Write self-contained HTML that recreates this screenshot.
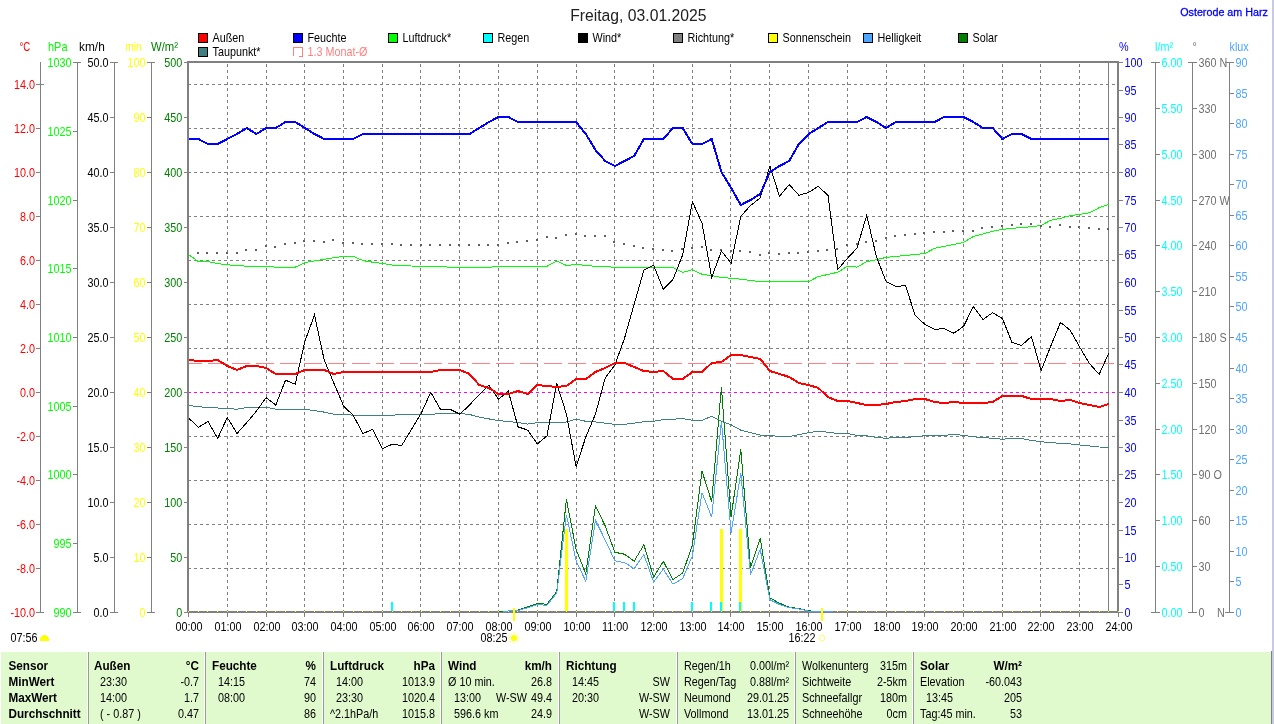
<!DOCTYPE html>
<html><head><meta charset="utf-8"><title>Wetter Osterode am Harz</title>
<style>html,body{margin:0;padding:0;background:#fff;overflow:hidden}body{width:1274px;height:724px;font-family:"Liberation Sans",sans-serif}svg{display:block;will-change:transform}</style></head>
<body>
<svg width="1274" height="724" viewBox="0 0 1274 724" font-family="'Liberation Sans', sans-serif" font-size="12" shape-rendering="crispEdges">
<rect x="0" y="0" width="1274" height="724" fill="#fff"/>
<rect x="1272" y="0" width="2" height="724" fill="#c8c8e8"/>
<rect x="1" y="652" width="1270" height="72" fill="#e1facd"/>
<rect x="1271" y="651" width="1" height="73" fill="#808080"/>
<rect x="87" y="652" width="1" height="72" fill="#ffffff"/>
<rect x="88" y="652" width="1" height="72" fill="#9a9a9a"/>
<rect x="204" y="652" width="1" height="72" fill="#ffffff"/>
<rect x="205" y="652" width="1" height="72" fill="#9a9a9a"/>
<rect x="322" y="652" width="1" height="72" fill="#ffffff"/>
<rect x="323" y="652" width="1" height="72" fill="#9a9a9a"/>
<rect x="440" y="652" width="1" height="72" fill="#ffffff"/>
<rect x="441" y="652" width="1" height="72" fill="#9a9a9a"/>
<rect x="558" y="652" width="1" height="72" fill="#ffffff"/>
<rect x="559" y="652" width="1" height="72" fill="#9a9a9a"/>
<rect x="676" y="652" width="1" height="72" fill="#ffffff"/>
<rect x="677" y="652" width="1" height="72" fill="#9a9a9a"/>
<rect x="794" y="652" width="1" height="72" fill="#ffffff"/>
<rect x="795" y="652" width="1" height="72" fill="#9a9a9a"/>
<rect x="912" y="652" width="1" height="72" fill="#ffffff"/>
<rect x="913" y="652" width="1" height="72" fill="#9a9a9a"/>
<line x1="227.5" y1="63" x2="227.5" y2="611" stroke="#808080" stroke-width="1" stroke-dasharray="3 3" stroke-dashoffset="5"/>
<line x1="266.5" y1="63" x2="266.5" y2="611" stroke="#808080" stroke-width="1" stroke-dasharray="3 3" stroke-dashoffset="5"/>
<line x1="304.5" y1="63" x2="304.5" y2="611" stroke="#808080" stroke-width="1" stroke-dasharray="3 3" stroke-dashoffset="5"/>
<line x1="343.5" y1="63" x2="343.5" y2="611" stroke="#808080" stroke-width="1" stroke-dasharray="3 3" stroke-dashoffset="5"/>
<line x1="382.5" y1="63" x2="382.5" y2="611" stroke="#808080" stroke-width="1" stroke-dasharray="3 3" stroke-dashoffset="5"/>
<line x1="420.5" y1="63" x2="420.5" y2="611" stroke="#808080" stroke-width="1" stroke-dasharray="3 3" stroke-dashoffset="5"/>
<line x1="459.5" y1="63" x2="459.5" y2="611" stroke="#808080" stroke-width="1" stroke-dasharray="3 3" stroke-dashoffset="5"/>
<line x1="498.5" y1="63" x2="498.5" y2="611" stroke="#808080" stroke-width="1" stroke-dasharray="3 3" stroke-dashoffset="5"/>
<line x1="537.5" y1="63" x2="537.5" y2="611" stroke="#808080" stroke-width="1" stroke-dasharray="3 3" stroke-dashoffset="5"/>
<line x1="576.5" y1="63" x2="576.5" y2="611" stroke="#808080" stroke-width="1" stroke-dasharray="3 3" stroke-dashoffset="5"/>
<line x1="614.5" y1="63" x2="614.5" y2="611" stroke="#808080" stroke-width="1" stroke-dasharray="3 3" stroke-dashoffset="5"/>
<line x1="653.5" y1="63" x2="653.5" y2="611" stroke="#808080" stroke-width="1" stroke-dasharray="3 3" stroke-dashoffset="5"/>
<line x1="692.5" y1="63" x2="692.5" y2="611" stroke="#808080" stroke-width="1" stroke-dasharray="3 3" stroke-dashoffset="5"/>
<line x1="730.5" y1="63" x2="730.5" y2="611" stroke="#808080" stroke-width="1" stroke-dasharray="3 3" stroke-dashoffset="5"/>
<line x1="769.5" y1="63" x2="769.5" y2="611" stroke="#808080" stroke-width="1" stroke-dasharray="3 3" stroke-dashoffset="5"/>
<line x1="808.5" y1="63" x2="808.5" y2="611" stroke="#808080" stroke-width="1" stroke-dasharray="3 3" stroke-dashoffset="5"/>
<line x1="847.5" y1="63" x2="847.5" y2="611" stroke="#808080" stroke-width="1" stroke-dasharray="3 3" stroke-dashoffset="5"/>
<line x1="886.5" y1="63" x2="886.5" y2="611" stroke="#808080" stroke-width="1" stroke-dasharray="3 3" stroke-dashoffset="5"/>
<line x1="924.5" y1="63" x2="924.5" y2="611" stroke="#808080" stroke-width="1" stroke-dasharray="3 3" stroke-dashoffset="5"/>
<line x1="963.5" y1="63" x2="963.5" y2="611" stroke="#808080" stroke-width="1" stroke-dasharray="3 3" stroke-dashoffset="5"/>
<line x1="1002.5" y1="63" x2="1002.5" y2="611" stroke="#808080" stroke-width="1" stroke-dasharray="3 3" stroke-dashoffset="5"/>
<line x1="1040.5" y1="63" x2="1040.5" y2="611" stroke="#808080" stroke-width="1" stroke-dasharray="3 3" stroke-dashoffset="5"/>
<line x1="1079.5" y1="63" x2="1079.5" y2="611" stroke="#808080" stroke-width="1" stroke-dasharray="3 3" stroke-dashoffset="5"/>
<line x1="189" y1="84.5" x2="1117" y2="84.5" stroke="#808080" stroke-width="1" stroke-dasharray="3 3" stroke-dashoffset="1"/>
<line x1="189" y1="128.5" x2="1117" y2="128.5" stroke="#808080" stroke-width="1" stroke-dasharray="3 3" stroke-dashoffset="1"/>
<line x1="189" y1="172.5" x2="1117" y2="172.5" stroke="#808080" stroke-width="1" stroke-dasharray="3 3" stroke-dashoffset="1"/>
<line x1="189" y1="216.5" x2="1117" y2="216.5" stroke="#808080" stroke-width="1" stroke-dasharray="3 3" stroke-dashoffset="1"/>
<line x1="189" y1="260.5" x2="1117" y2="260.5" stroke="#808080" stroke-width="1" stroke-dasharray="3 3" stroke-dashoffset="1"/>
<line x1="189" y1="304.5" x2="1117" y2="304.5" stroke="#808080" stroke-width="1" stroke-dasharray="3 3" stroke-dashoffset="1"/>
<line x1="189" y1="348.5" x2="1117" y2="348.5" stroke="#808080" stroke-width="1" stroke-dasharray="3 3" stroke-dashoffset="1"/>
<line x1="189" y1="436.5" x2="1117" y2="436.5" stroke="#808080" stroke-width="1" stroke-dasharray="3 3" stroke-dashoffset="1"/>
<line x1="189" y1="480.5" x2="1117" y2="480.5" stroke="#808080" stroke-width="1" stroke-dasharray="3 3" stroke-dashoffset="1"/>
<line x1="189" y1="524.5" x2="1117" y2="524.5" stroke="#808080" stroke-width="1" stroke-dasharray="3 3" stroke-dashoffset="1"/>
<line x1="189" y1="568.5" x2="1117" y2="568.5" stroke="#808080" stroke-width="1" stroke-dasharray="3 3" stroke-dashoffset="1"/>
<rect x="1108" y="63" width="1" height="548" fill="#808080"/>
<line x1="184" y1="363.5" x2="1114" y2="363.5" stroke="#ff8080" stroke-width="1" stroke-dasharray="18 6" clip-path="url(#pc)"/>
<line x1="189" y1="392.5" x2="1117" y2="392.5" stroke="#ff00ff" stroke-width="1" stroke-dasharray="3 3" stroke-dashoffset="1"/>
<defs><clipPath id="pd"><rect x="189" y="63" width="928" height="550"/></clipPath><clipPath id="pc"><rect x="189" y="63" width="928" height="548"/></clipPath></defs>
<rect x="187" y="61" width="932" height="2" fill="#808080"/>
<rect x="187" y="611" width="932" height="2" fill="#808080"/>
<rect x="187" y="61" width="2" height="552" fill="#808080"/>
<rect x="1117" y="61" width="2" height="552" fill="#808080"/>
<rect x="188" y="611" width="1" height="1" fill="#ffff00"/>
<rect x="198" y="611" width="1" height="1" fill="#ffff00"/>
<rect x="207" y="611" width="1" height="1" fill="#ffff00"/>
<rect x="217" y="611" width="1" height="1" fill="#ffff00"/>
<rect x="227" y="611" width="1" height="1" fill="#ffff00"/>
<rect x="237" y="611" width="1" height="1" fill="#ffff00"/>
<rect x="246" y="611" width="1" height="1" fill="#ffff00"/>
<rect x="256" y="611" width="1" height="1" fill="#ffff00"/>
<rect x="266" y="611" width="1" height="1" fill="#ffff00"/>
<rect x="275" y="611" width="1" height="1" fill="#ffff00"/>
<rect x="285" y="611" width="1" height="1" fill="#ffff00"/>
<rect x="295" y="611" width="1" height="1" fill="#ffff00"/>
<rect x="304" y="611" width="1" height="1" fill="#ffff00"/>
<rect x="314" y="611" width="1" height="1" fill="#ffff00"/>
<rect x="324" y="611" width="1" height="1" fill="#ffff00"/>
<rect x="333" y="611" width="1" height="1" fill="#ffff00"/>
<rect x="343" y="611" width="1" height="1" fill="#ffff00"/>
<rect x="353" y="611" width="1" height="1" fill="#ffff00"/>
<rect x="362" y="611" width="1" height="1" fill="#ffff00"/>
<rect x="372" y="611" width="1" height="1" fill="#ffff00"/>
<rect x="382" y="611" width="1" height="1" fill="#ffff00"/>
<rect x="392" y="611" width="1" height="1" fill="#ffff00"/>
<rect x="401" y="611" width="1" height="1" fill="#ffff00"/>
<rect x="411" y="611" width="1" height="1" fill="#ffff00"/>
<rect x="421" y="611" width="1" height="1" fill="#ffff00"/>
<rect x="430" y="611" width="1" height="1" fill="#ffff00"/>
<rect x="440" y="611" width="1" height="1" fill="#ffff00"/>
<rect x="450" y="611" width="1" height="1" fill="#ffff00"/>
<rect x="459" y="611" width="1" height="1" fill="#ffff00"/>
<rect x="469" y="611" width="1" height="1" fill="#ffff00"/>
<rect x="479" y="611" width="1" height="1" fill="#ffff00"/>
<rect x="488" y="611" width="1" height="1" fill="#ffff00"/>
<rect x="498" y="611" width="1" height="1" fill="#ffff00"/>
<rect x="508" y="611" width="1" height="1" fill="#ffff00"/>
<rect x="517" y="611" width="1" height="1" fill="#ffff00"/>
<rect x="527" y="611" width="1" height="1" fill="#ffff00"/>
<rect x="537" y="611" width="1" height="1" fill="#ffff00"/>
<rect x="547" y="611" width="1" height="1" fill="#ffff00"/>
<rect x="556" y="611" width="1" height="1" fill="#ffff00"/>
<rect x="566" y="611" width="1" height="1" fill="#ffff00"/>
<rect x="576" y="611" width="1" height="1" fill="#ffff00"/>
<rect x="585" y="611" width="1" height="1" fill="#ffff00"/>
<rect x="595" y="611" width="1" height="1" fill="#ffff00"/>
<rect x="605" y="611" width="1" height="1" fill="#ffff00"/>
<rect x="614" y="611" width="1" height="1" fill="#ffff00"/>
<rect x="624" y="611" width="1" height="1" fill="#ffff00"/>
<rect x="634" y="611" width="1" height="1" fill="#ffff00"/>
<rect x="643" y="611" width="1" height="1" fill="#ffff00"/>
<rect x="653" y="611" width="1" height="1" fill="#ffff00"/>
<rect x="663" y="611" width="1" height="1" fill="#ffff00"/>
<rect x="672" y="611" width="1" height="1" fill="#ffff00"/>
<rect x="682" y="611" width="1" height="1" fill="#ffff00"/>
<rect x="692" y="611" width="1" height="1" fill="#ffff00"/>
<rect x="702" y="611" width="1" height="1" fill="#ffff00"/>
<rect x="711" y="611" width="1" height="1" fill="#ffff00"/>
<rect x="721" y="611" width="1" height="1" fill="#ffff00"/>
<rect x="731" y="611" width="1" height="1" fill="#ffff00"/>
<rect x="740" y="611" width="1" height="1" fill="#ffff00"/>
<rect x="750" y="611" width="1" height="1" fill="#ffff00"/>
<rect x="760" y="611" width="1" height="1" fill="#ffff00"/>
<rect x="769" y="611" width="1" height="1" fill="#ffff00"/>
<rect x="779" y="611" width="1" height="1" fill="#ffff00"/>
<rect x="789" y="611" width="1" height="1" fill="#ffff00"/>
<rect x="798" y="611" width="1" height="1" fill="#ffff00"/>
<rect x="808" y="611" width="1" height="1" fill="#ffff00"/>
<rect x="818" y="611" width="1" height="1" fill="#ffff00"/>
<rect x="827" y="611" width="1" height="1" fill="#ffff00"/>
<rect x="837" y="611" width="1" height="1" fill="#ffff00"/>
<rect x="847" y="611" width="1" height="1" fill="#ffff00"/>
<rect x="857" y="611" width="1" height="1" fill="#ffff00"/>
<rect x="866" y="611" width="1" height="1" fill="#ffff00"/>
<rect x="876" y="611" width="1" height="1" fill="#ffff00"/>
<rect x="886" y="611" width="1" height="1" fill="#ffff00"/>
<rect x="895" y="611" width="1" height="1" fill="#ffff00"/>
<rect x="905" y="611" width="1" height="1" fill="#ffff00"/>
<rect x="915" y="611" width="1" height="1" fill="#ffff00"/>
<rect x="924" y="611" width="1" height="1" fill="#ffff00"/>
<rect x="934" y="611" width="1" height="1" fill="#ffff00"/>
<rect x="944" y="611" width="1" height="1" fill="#ffff00"/>
<rect x="953" y="611" width="1" height="1" fill="#ffff00"/>
<rect x="963" y="611" width="1" height="1" fill="#ffff00"/>
<rect x="973" y="611" width="1" height="1" fill="#ffff00"/>
<rect x="982" y="611" width="1" height="1" fill="#ffff00"/>
<rect x="992" y="611" width="1" height="1" fill="#ffff00"/>
<rect x="1002" y="611" width="1" height="1" fill="#ffff00"/>
<rect x="1012" y="611" width="1" height="1" fill="#ffff00"/>
<rect x="1021" y="611" width="1" height="1" fill="#ffff00"/>
<rect x="1031" y="611" width="1" height="1" fill="#ffff00"/>
<rect x="1041" y="611" width="1" height="1" fill="#ffff00"/>
<rect x="1050" y="611" width="1" height="1" fill="#ffff00"/>
<rect x="1060" y="611" width="1" height="1" fill="#ffff00"/>
<rect x="1070" y="611" width="1" height="1" fill="#ffff00"/>
<rect x="1079" y="611" width="1" height="1" fill="#ffff00"/>
<rect x="1089" y="611" width="1" height="1" fill="#ffff00"/>
<rect x="1099" y="611" width="1" height="1" fill="#ffff00"/>
<rect x="1108" y="611" width="1" height="1" fill="#ffff00"/>
<rect x="1118" y="611" width="1" height="1" fill="#ffff00"/>
<g clip-path="url(#pd)">
<rect x="391" y="602" width="2" height="9" fill="#00ffff"/>
<rect x="613" y="602" width="2" height="9" fill="#00ffff"/>
<rect x="623" y="602" width="2" height="9" fill="#00ffff"/>
<rect x="633" y="602" width="2" height="9" fill="#00ffff"/>
<rect x="691" y="602" width="2" height="9" fill="#00ffff"/>
<rect x="710" y="602" width="2" height="9" fill="#00ffff"/>
<rect x="720" y="602" width="2" height="9" fill="#00ffff"/>
<rect x="739" y="602" width="2" height="9" fill="#00ffff"/>
<rect x="565" y="529" width="3" height="82" fill="#ffff00"/>
<rect x="720" y="529" width="3" height="82" fill="#ffff00"/>
<rect x="739" y="529" width="3" height="82" fill="#ffff00"/>
<rect x="720" y="602" width="2" height="9" fill="#00ffff"/>
<rect x="739" y="602" width="2" height="9" fill="#00ffff"/>
<polyline points="498.6,612.0 508.3,611.0 518.0,610.0 527.7,606.8 537.4,603.4 547.0,604.3 556.7,591.7 566.4,499.3 576.1,549.5 585.8,573.9 595.5,505.7 605.2,526.0 614.9,552.3 624.5,554.2 634.2,561.1 643.9,544.8 653.6,577.1 663.3,561.3 673.0,579.5 682.7,573.0 692.4,545.0 702.0,471.1 711.7,501.8 721.4,387.0 731.1,516.8 740.8,449.3 750.5,567.5 760.2,538.3 769.9,597.9 779.5,603.2 789.2,607.3 798.9,608.5 808.6,610.8 818.3,611.7 828.0,612.0" fill="none" stroke="#008000" stroke-width="1"/>
<polyline points="503.0,611.3 508.3,611.0 518.0,610.5 527.7,607.7 537.4,604.5 547.0,605.3 556.7,593.2 566.4,514.7 576.1,560.8 585.8,581.4 595.5,520.4 605.2,540.1 614.9,560.8 624.5,562.6 634.2,568.6 643.9,554.6 653.6,582.0 663.3,569.2 673.0,584.2 682.7,578.5 692.4,555.7 702.0,492.6 711.7,517.2 721.4,421.0 731.1,532.7 740.8,473.3 750.5,574.6 760.2,549.3 769.9,599.7 779.5,604.5 789.2,607.6 798.9,608.9 808.6,611.2 818.3,611.3 832.8,611.3" fill="none" stroke="#4da6ff" stroke-width="1"/>
<polyline points="188.6,254.6 198.3,261.5 208.0,261.5 217.7,263.5 227.3,264.8 237.0,265.5 246.7,266.2 256.4,266.2 266.1,266.2 275.8,267.2 285.5,267.2 295.2,267.2 304.9,262.5 314.5,261.0 324.2,259.2 333.9,257.8 343.6,256.4 353.3,256.4 363.0,260.6 372.7,262.2 382.4,263.4 392.0,265.0 401.7,265.6 411.4,266.0 421.1,266.3 430.8,266.3 440.5,266.3 450.2,267.4 459.9,267.4 469.5,267.4 479.2,267.4 488.9,267.4 498.6,266.3 508.3,266.3 518.0,266.3 527.7,266.3 537.4,266.3 547.0,266.3 556.7,261.0 566.4,265.4 576.1,264.5 585.8,265.4 595.5,266.3 605.2,266.3 614.9,267.4 624.5,267.4 634.2,267.4 643.9,267.4 653.6,267.4 663.3,267.4 673.0,267.4 682.7,272.5 692.4,269.6 702.0,274.3 711.7,275.6 721.4,277.4 731.1,278.3 740.8,279.2 750.5,280.5 760.2,281.6 769.9,281.6 779.5,281.6 789.2,281.6 798.9,281.6 808.6,281.6 818.3,276.5 828.0,274.5 837.7,272.3 847.4,266.3 857.0,267.1 866.7,261.6 876.4,259.7 886.1,257.4 895.8,256.5 905.5,255.4 915.2,254.5 924.9,253.5 934.5,248.4 944.2,246.3 953.9,244.4 963.6,242.4 973.3,236.6 983.0,233.9 992.7,231.2 1002.4,229.4 1012.0,228.3 1021.7,227.5 1031.4,226.7 1041.1,225.4 1050.8,220.2 1060.5,218.3 1070.2,215.7 1079.8,214.3 1089.5,212.7 1099.2,207.7 1108.9,204.5" fill="none" stroke="#00ff00" stroke-width="1"/>
<rect x="197" y="252" width="2" height="2" fill="#606060"/>
<rect x="206" y="252" width="2" height="2" fill="#606060"/>
<rect x="216" y="252" width="2" height="2" fill="#606060"/>
<rect x="226" y="252" width="2" height="2" fill="#606060"/>
<rect x="236" y="252" width="2" height="2" fill="#606060"/>
<rect x="245" y="249" width="2" height="2" fill="#606060"/>
<rect x="255" y="249" width="2" height="2" fill="#606060"/>
<rect x="265" y="245" width="2" height="2" fill="#606060"/>
<rect x="274" y="246" width="2" height="2" fill="#606060"/>
<rect x="284" y="243" width="2" height="2" fill="#606060"/>
<rect x="294" y="242" width="2" height="2" fill="#606060"/>
<rect x="303" y="240" width="2" height="2" fill="#606060"/>
<rect x="313" y="240" width="2" height="2" fill="#606060"/>
<rect x="323" y="241" width="2" height="2" fill="#606060"/>
<rect x="332" y="239" width="2" height="2" fill="#606060"/>
<rect x="342" y="242" width="2" height="2" fill="#606060"/>
<rect x="352" y="242" width="2" height="2" fill="#606060"/>
<rect x="361" y="243" width="2" height="2" fill="#606060"/>
<rect x="371" y="243" width="2" height="2" fill="#606060"/>
<rect x="381" y="243" width="2" height="2" fill="#606060"/>
<rect x="391" y="243" width="2" height="2" fill="#606060"/>
<rect x="400" y="244" width="2" height="2" fill="#606060"/>
<rect x="410" y="244" width="2" height="2" fill="#606060"/>
<rect x="420" y="244" width="2" height="2" fill="#606060"/>
<rect x="429" y="244" width="2" height="2" fill="#606060"/>
<rect x="439" y="244" width="2" height="2" fill="#606060"/>
<rect x="449" y="244" width="2" height="2" fill="#606060"/>
<rect x="458" y="244" width="2" height="2" fill="#606060"/>
<rect x="468" y="244" width="2" height="2" fill="#606060"/>
<rect x="478" y="244" width="2" height="2" fill="#606060"/>
<rect x="487" y="244" width="2" height="2" fill="#606060"/>
<rect x="497" y="244" width="2" height="2" fill="#606060"/>
<rect x="507" y="242" width="2" height="2" fill="#606060"/>
<rect x="516" y="241" width="2" height="2" fill="#606060"/>
<rect x="526" y="240" width="2" height="2" fill="#606060"/>
<rect x="536" y="239" width="2" height="2" fill="#606060"/>
<rect x="546" y="236" width="2" height="2" fill="#606060"/>
<rect x="555" y="237" width="2" height="2" fill="#606060"/>
<rect x="565" y="234" width="2" height="2" fill="#606060"/>
<rect x="575" y="233" width="2" height="2" fill="#606060"/>
<rect x="584" y="235" width="2" height="2" fill="#606060"/>
<rect x="594" y="235" width="2" height="2" fill="#606060"/>
<rect x="604" y="235" width="2" height="2" fill="#606060"/>
<rect x="613" y="241" width="2" height="2" fill="#606060"/>
<rect x="623" y="243" width="2" height="2" fill="#606060"/>
<rect x="633" y="245" width="2" height="2" fill="#606060"/>
<rect x="642" y="247" width="2" height="2" fill="#606060"/>
<rect x="652" y="248" width="2" height="2" fill="#606060"/>
<rect x="662" y="249" width="2" height="2" fill="#606060"/>
<rect x="671" y="250" width="2" height="2" fill="#606060"/>
<rect x="681" y="248" width="2" height="2" fill="#606060"/>
<rect x="691" y="247" width="2" height="2" fill="#606060"/>
<rect x="701" y="246" width="2" height="2" fill="#606060"/>
<rect x="710" y="249" width="2" height="2" fill="#606060"/>
<rect x="720" y="249" width="2" height="2" fill="#606060"/>
<rect x="730" y="250" width="2" height="2" fill="#606060"/>
<rect x="739" y="250" width="2" height="2" fill="#606060"/>
<rect x="749" y="251" width="2" height="2" fill="#606060"/>
<rect x="759" y="254" width="2" height="2" fill="#606060"/>
<rect x="768" y="252" width="2" height="2" fill="#606060"/>
<rect x="778" y="253" width="2" height="2" fill="#606060"/>
<rect x="788" y="252" width="2" height="2" fill="#606060"/>
<rect x="797" y="252" width="2" height="2" fill="#606060"/>
<rect x="807" y="251" width="2" height="2" fill="#606060"/>
<rect x="817" y="250" width="2" height="2" fill="#606060"/>
<rect x="826" y="249" width="2" height="2" fill="#606060"/>
<rect x="836" y="248" width="2" height="2" fill="#606060"/>
<rect x="846" y="244" width="2" height="2" fill="#606060"/>
<rect x="856" y="243" width="2" height="2" fill="#606060"/>
<rect x="865" y="241" width="2" height="2" fill="#606060"/>
<rect x="875" y="240" width="2" height="2" fill="#606060"/>
<rect x="885" y="237" width="2" height="2" fill="#606060"/>
<rect x="894" y="235" width="2" height="2" fill="#606060"/>
<rect x="904" y="234" width="2" height="2" fill="#606060"/>
<rect x="914" y="233" width="2" height="2" fill="#606060"/>
<rect x="923" y="232" width="2" height="2" fill="#606060"/>
<rect x="933" y="231" width="2" height="2" fill="#606060"/>
<rect x="943" y="231" width="2" height="2" fill="#606060"/>
<rect x="952" y="230" width="2" height="2" fill="#606060"/>
<rect x="962" y="230" width="2" height="2" fill="#606060"/>
<rect x="972" y="230" width="2" height="2" fill="#606060"/>
<rect x="981" y="227" width="2" height="2" fill="#606060"/>
<rect x="991" y="226" width="2" height="2" fill="#606060"/>
<rect x="1001" y="225" width="2" height="2" fill="#606060"/>
<rect x="1011" y="224" width="2" height="2" fill="#606060"/>
<rect x="1020" y="223" width="2" height="2" fill="#606060"/>
<rect x="1030" y="223" width="2" height="2" fill="#606060"/>
<rect x="1040" y="225" width="2" height="2" fill="#606060"/>
<rect x="1049" y="226" width="2" height="2" fill="#606060"/>
<rect x="1059" y="224" width="2" height="2" fill="#606060"/>
<rect x="1069" y="226" width="2" height="2" fill="#606060"/>
<rect x="1078" y="226" width="2" height="2" fill="#606060"/>
<rect x="1088" y="227" width="2" height="2" fill="#606060"/>
<rect x="1098" y="228" width="2" height="2" fill="#606060"/>
<rect x="1107" y="228" width="2" height="2" fill="#606060"/>
<polyline points="188.6,405.5 198.3,406.6 208.0,407.6 217.7,408.0 227.3,408.6 237.0,409.2 246.7,407.6 256.4,407.6 266.1,407.2 275.8,409.2 285.5,409.2 295.2,409.2 304.9,409.2 314.5,410.7 324.2,412.1 333.9,414.2 343.6,414.5 353.3,415.2 363.0,415.2 372.7,415.2 382.4,415.2 392.0,415.2 401.7,414.5 411.4,414.2 421.1,414.2 430.8,414.2 440.5,413.8 450.2,413.1 459.9,413.5 469.5,414.5 479.2,417.0 488.9,418.9 498.6,420.6 508.3,421.5 518.0,422.5 527.7,424.1 537.4,422.7 547.0,422.3 556.7,422.3 566.4,422.0 576.1,419.2 585.8,421.3 595.5,422.0 605.2,423.1 614.9,424.4 624.5,424.4 634.2,423.1 643.9,421.7 653.6,421.3 663.3,419.6 673.0,419.2 682.7,418.5 692.4,420.3 702.0,420.3 711.7,416.3 721.4,421.3 731.1,424.8 740.8,430.2 750.5,432.6 760.2,435.1 769.9,435.4 779.5,436.6 789.2,436.6 798.9,434.7 808.6,432.6 818.3,431.2 828.0,432.2 837.7,433.6 847.4,433.6 857.0,435.4 866.7,435.8 876.4,437.5 886.1,438.2 895.8,437.5 905.5,437.5 915.2,436.6 924.9,435.8 934.5,435.8 944.2,435.4 953.9,434.4 963.6,435.4 973.3,436.8 983.0,437.7 992.7,438.2 1002.4,439.3 1012.0,438.2 1021.7,438.5 1031.4,440.4 1041.1,441.8 1050.8,442.5 1060.5,443.5 1070.2,443.9 1079.8,445.0 1089.5,446.0 1099.2,447.0 1108.9,447.3" fill="none" stroke="#408080" stroke-width="1"/>
<polyline points="188.6,418.0 198.3,427.3 208.0,421.5 217.7,438.3 227.3,417.5 237.0,433.5 246.7,422.7 256.4,411.1 266.1,397.6 275.8,405.1 285.5,380.2 295.2,384.2 304.9,341.3 314.5,315.0 324.2,360.0 333.9,383.3 343.6,406.0 353.3,415.5 363.0,433.5 372.7,429.4 382.4,448.6 392.0,444.3 401.7,445.5 411.4,429.4 421.1,413.5 430.8,392.3 440.5,409.3 450.2,409.3 459.9,414.2 469.5,405.0 479.2,394.5 488.9,385.4 498.6,399.2 508.3,391.2 518.0,426.8 527.7,430.1 537.4,443.9 547.0,435.8 556.7,383.3 566.4,414.0 576.1,466.7 585.8,437.0 595.5,414.0 605.2,378.0 614.9,365.0 624.5,338.3 634.2,304.0 643.9,270.0 653.6,265.1 663.3,289.3 673.0,279.3 682.7,254.8 692.4,201.5 702.0,223.2 711.7,277.4 721.4,251.0 731.1,263.1 740.8,216.4 750.5,205.5 760.2,197.9 769.9,166.2 779.5,196.4 789.2,184.5 798.9,195.3 808.6,192.5 818.3,186.3 828.0,195.5 837.7,269.5 847.4,258.4 857.0,248.0 866.7,215.3 876.4,256.7 886.1,281.6 895.8,286.5 905.5,285.5 915.2,315.5 924.9,324.4 934.5,329.3 944.2,328.7 953.9,333.2 963.6,326.3 973.3,306.7 983.0,319.5 992.7,312.6 1002.4,318.5 1012.0,342.4 1021.7,345.4 1031.4,336.5 1041.1,370.5 1050.8,346.0 1060.5,322.4 1070.2,330.3 1079.8,347.3 1089.5,363.6 1099.2,374.4 1108.9,352.8" fill="none" stroke="#000" stroke-width="1"/>
<polyline points="188.6,139.0 198.3,139.0 208.0,144.0 217.7,144.0 227.3,139.0 237.0,134.0 246.7,128.0 256.4,134.0 266.1,128.0 275.8,128.0 285.5,122.0 295.2,122.0 304.9,128.0 314.5,134.0 324.2,139.0 333.9,139.0 343.6,139.0 353.3,139.0 363.0,134.0 372.7,134.0 382.4,134.0 392.0,134.0 401.7,134.0 411.4,134.0 421.1,134.0 430.8,134.0 440.5,134.0 450.2,134.0 459.9,134.0 469.5,134.0 479.2,128.0 488.9,122.0 498.6,117.0 508.3,117.0 518.0,122.0 527.7,122.0 537.4,122.0 547.0,122.0 556.7,122.0 566.4,122.0 576.1,122.0 585.8,134.0 595.5,150.0 605.2,161.0 614.9,166.0 624.5,161.0 634.2,156.0 643.9,139.0 653.6,139.0 663.3,139.0 673.0,128.0 682.7,128.0 692.4,144.0 702.0,144.0 711.7,139.0 721.4,172.0 731.1,188.0 740.8,205.0 750.5,200.0 760.2,194.0 769.9,172.0 779.5,166.0 789.2,161.0 798.9,144.0 808.6,134.0 818.3,128.0 828.0,122.0 837.7,122.0 847.4,122.0 857.0,122.0 866.7,117.0 876.4,122.0 886.1,128.0 895.8,122.0 905.5,122.0 915.2,122.0 924.9,122.0 934.5,122.0 944.2,117.0 953.9,117.0 963.6,117.0 973.3,122.0 983.0,128.0 992.7,128.0 1002.4,139.0 1012.0,134.0 1021.7,134.0 1031.4,139.0 1041.1,139.0 1050.8,139.0 1060.5,139.0 1070.2,139.0 1079.8,139.0 1089.5,139.0 1099.2,139.0 1108.9,139.0" fill="none" stroke="#0000ff" stroke-width="2" stroke-linejoin="round"/>
<polyline points="188.6,360.0 198.3,361.0 208.0,361.0 217.7,360.0 227.3,366.0 237.0,370.0 246.7,366.0 256.4,366.0 266.1,368.0 275.8,374.0 285.5,374.0 295.2,374.0 304.9,370.0 314.5,370.0 324.2,370.0 333.9,374.0 343.6,372.0 353.3,372.0 363.0,372.0 372.7,372.0 382.4,372.0 392.0,372.0 401.7,372.0 411.4,372.0 421.1,372.0 430.8,372.0 440.5,370.0 450.2,370.0 459.9,370.0 469.5,374.0 479.2,385.0 488.9,388.0 498.6,394.0 508.3,394.0 518.0,391.0 527.7,394.0 537.4,385.0 547.0,386.0 556.7,387.0 566.4,386.0 576.1,379.0 585.8,379.0 595.5,372.0 605.2,368.0 614.9,363.0 624.5,363.0 634.2,367.0 643.9,371.0 653.6,372.0 663.3,371.0 673.0,379.0 682.7,379.0 692.4,372.0 702.0,372.0 711.7,363.0 721.4,362.0 731.1,355.0 740.8,355.0 750.5,357.0 760.2,359.0 769.9,371.0 779.5,374.0 789.2,377.0 798.9,383.0 808.6,385.0 818.3,388.0 828.0,397.0 837.7,401.0 847.4,401.0 857.0,403.0 866.7,405.0 876.4,405.0 886.1,404.0 895.8,402.0 905.5,401.0 915.2,399.0 924.9,399.0 934.5,402.0 944.2,403.0 953.9,402.0 963.6,403.0 973.3,403.0 983.0,403.0 992.7,402.0 1002.4,396.0 1012.0,396.0 1021.7,396.0 1031.4,399.0 1041.1,399.0 1050.8,399.0 1060.5,401.0 1070.2,400.0 1079.8,403.0 1089.5,405.0 1099.2,407.0 1108.9,404.0" fill="none" stroke="#ff0000" stroke-width="2" stroke-linejoin="round"/>
</g>
<rect x="188" y="613" width="1" height="4" fill="#808080"/>
<text transform="translate(189.1,631.0) scale(0.9,1)" text-anchor="middle" fill="#000" font-size="12">00:00</text>
<rect x="227" y="613" width="1" height="4" fill="#808080"/>
<text transform="translate(228.1,631.0) scale(0.9,1)" text-anchor="middle" fill="#000" font-size="12">01:00</text>
<rect x="266" y="613" width="1" height="4" fill="#808080"/>
<text transform="translate(267.1,631.0) scale(0.9,1)" text-anchor="middle" fill="#000" font-size="12">02:00</text>
<rect x="304" y="613" width="1" height="4" fill="#808080"/>
<text transform="translate(305.1,631.0) scale(0.9,1)" text-anchor="middle" fill="#000" font-size="12">03:00</text>
<rect x="343" y="613" width="1" height="4" fill="#808080"/>
<text transform="translate(344.1,631.0) scale(0.9,1)" text-anchor="middle" fill="#000" font-size="12">04:00</text>
<rect x="382" y="613" width="1" height="4" fill="#808080"/>
<text transform="translate(383.1,631.0) scale(0.9,1)" text-anchor="middle" fill="#000" font-size="12">05:00</text>
<rect x="420" y="613" width="1" height="4" fill="#808080"/>
<text transform="translate(421.1,631.0) scale(0.9,1)" text-anchor="middle" fill="#000" font-size="12">06:00</text>
<rect x="459" y="613" width="1" height="4" fill="#808080"/>
<text transform="translate(460.1,631.0) scale(0.9,1)" text-anchor="middle" fill="#000" font-size="12">07:00</text>
<rect x="498" y="613" width="1" height="4" fill="#808080"/>
<text transform="translate(499.1,631.0) scale(0.9,1)" text-anchor="middle" fill="#000" font-size="12">08:00</text>
<rect x="537" y="613" width="1" height="4" fill="#808080"/>
<text transform="translate(538.1,631.0) scale(0.9,1)" text-anchor="middle" fill="#000" font-size="12">09:00</text>
<rect x="576" y="613" width="1" height="4" fill="#808080"/>
<text transform="translate(577.1,631.0) scale(0.9,1)" text-anchor="middle" fill="#000" font-size="12">10:00</text>
<rect x="614" y="613" width="1" height="4" fill="#808080"/>
<text transform="translate(615.1,631.0) scale(0.9,1)" text-anchor="middle" fill="#000" font-size="12">11:00</text>
<rect x="653" y="613" width="1" height="4" fill="#808080"/>
<text transform="translate(654.1,631.0) scale(0.9,1)" text-anchor="middle" fill="#000" font-size="12">12:00</text>
<rect x="692" y="613" width="1" height="4" fill="#808080"/>
<text transform="translate(693.1,631.0) scale(0.9,1)" text-anchor="middle" fill="#000" font-size="12">13:00</text>
<rect x="730" y="613" width="1" height="4" fill="#808080"/>
<text transform="translate(731.1,631.0) scale(0.9,1)" text-anchor="middle" fill="#000" font-size="12">14:00</text>
<rect x="769" y="613" width="1" height="4" fill="#808080"/>
<text transform="translate(770.1,631.0) scale(0.9,1)" text-anchor="middle" fill="#000" font-size="12">15:00</text>
<rect x="808" y="613" width="1" height="4" fill="#808080"/>
<text transform="translate(809.1,631.0) scale(0.9,1)" text-anchor="middle" fill="#000" font-size="12">16:00</text>
<rect x="847" y="613" width="1" height="4" fill="#808080"/>
<text transform="translate(848.1,631.0) scale(0.9,1)" text-anchor="middle" fill="#000" font-size="12">17:00</text>
<rect x="886" y="613" width="1" height="4" fill="#808080"/>
<text transform="translate(887.1,631.0) scale(0.9,1)" text-anchor="middle" fill="#000" font-size="12">18:00</text>
<rect x="924" y="613" width="1" height="4" fill="#808080"/>
<text transform="translate(925.1,631.0) scale(0.9,1)" text-anchor="middle" fill="#000" font-size="12">19:00</text>
<rect x="963" y="613" width="1" height="4" fill="#808080"/>
<text transform="translate(964.1,631.0) scale(0.9,1)" text-anchor="middle" fill="#000" font-size="12">20:00</text>
<rect x="1002" y="613" width="1" height="4" fill="#808080"/>
<text transform="translate(1003.1,631.0) scale(0.9,1)" text-anchor="middle" fill="#000" font-size="12">21:00</text>
<rect x="1040" y="613" width="1" height="4" fill="#808080"/>
<text transform="translate(1041.1,631.0) scale(0.9,1)" text-anchor="middle" fill="#000" font-size="12">22:00</text>
<rect x="1079" y="613" width="1" height="4" fill="#808080"/>
<text transform="translate(1080.1,631.0) scale(0.9,1)" text-anchor="middle" fill="#000" font-size="12">23:00</text>
<rect x="1118" y="613" width="1" height="4" fill="#808080"/>
<text transform="translate(1119.1,631.0) scale(0.9,1)" text-anchor="middle" fill="#000" font-size="12">24:00</text>
<rect x="513" y="608" width="2" height="13" fill="#ffff00"/>
<rect x="821" y="608" width="2" height="13" fill="#ffff00"/>
<text transform="translate(480.5,642.0) scale(0.9,1)" text-anchor="start" fill="#000" font-size="12">08:25</text>
<text transform="translate(788.5,642.0) scale(0.9,1)" text-anchor="start" fill="#000" font-size="12">16:22</text>
<text transform="translate(10.5,642.0) scale(0.9,1)" text-anchor="start" fill="#000" font-size="12">07:56</text>
<g shape-rendering="auto">
<circle cx="514" cy="638" r="3.1" fill="#ffff00"/>
<g stroke="#ffff90" stroke-width="1.3"><line x1="518.0" y1="638.0" x2="519.9" y2="638.0"/><line x1="516.8" y1="640.8" x2="518.2" y2="642.2"/><line x1="514.0" y1="642.0" x2="514.0" y2="643.9"/><line x1="511.2" y1="640.8" x2="509.8" y2="642.2"/><line x1="510.0" y1="638.0" x2="508.1" y2="638.0"/><line x1="511.2" y1="635.2" x2="509.8" y2="633.8"/><line x1="514.0" y1="634.0" x2="514.0" y2="632.1"/><line x1="516.8" y1="635.2" x2="518.2" y2="633.8"/></g>
<rect x="819.5" y="635.5" width="5" height="5" rx="1.5" fill="none" stroke="#ffff70" stroke-width="1"/>
<g shape-rendering="crispEdges" fill="#ffff00"><rect x="43" y="635" width="3" height="1"/><rect x="41" y="636" width="7" height="2"/><rect x="40" y="638" width="9" height="3"/></g>
</g>
<rect x="40" y="62" width="1" height="551" fill="#808080"/>
<rect x="36" y="84" width="8" height="1" fill="#808080"/>
<text transform="translate(35.0,88.6) scale(0.9,1)" text-anchor="end" fill="#ff0000" font-size="12">14.0</text>
<rect x="36" y="128" width="4" height="1" fill="#808080"/>
<text transform="translate(35.0,132.6) scale(0.9,1)" text-anchor="end" fill="#ff0000" font-size="12">12.0</text>
<rect x="36" y="172" width="4" height="1" fill="#808080"/>
<text transform="translate(35.0,176.6) scale(0.9,1)" text-anchor="end" fill="#ff0000" font-size="12">10.0</text>
<rect x="36" y="216" width="4" height="1" fill="#808080"/>
<text transform="translate(35.0,220.6) scale(0.9,1)" text-anchor="end" fill="#ff0000" font-size="12">8.0</text>
<rect x="36" y="260" width="4" height="1" fill="#808080"/>
<text transform="translate(35.0,264.6) scale(0.9,1)" text-anchor="end" fill="#ff0000" font-size="12">6.0</text>
<rect x="36" y="304" width="4" height="1" fill="#808080"/>
<text transform="translate(35.0,308.6) scale(0.9,1)" text-anchor="end" fill="#ff0000" font-size="12">4.0</text>
<rect x="36" y="348" width="4" height="1" fill="#808080"/>
<text transform="translate(35.0,352.6) scale(0.9,1)" text-anchor="end" fill="#ff0000" font-size="12">2.0</text>
<rect x="36" y="392" width="4" height="1" fill="#808080"/>
<text transform="translate(35.0,396.6) scale(0.9,1)" text-anchor="end" fill="#ff0000" font-size="12">0.0</text>
<rect x="36" y="436" width="4" height="1" fill="#808080"/>
<text transform="translate(35.0,440.6) scale(0.9,1)" text-anchor="end" fill="#ff0000" font-size="12">-2.0</text>
<rect x="36" y="480" width="4" height="1" fill="#808080"/>
<text transform="translate(35.0,484.6) scale(0.9,1)" text-anchor="end" fill="#ff0000" font-size="12">-4.0</text>
<rect x="36" y="524" width="4" height="1" fill="#808080"/>
<text transform="translate(35.0,528.6) scale(0.9,1)" text-anchor="end" fill="#ff0000" font-size="12">-6.0</text>
<rect x="36" y="568" width="4" height="1" fill="#808080"/>
<text transform="translate(35.0,572.6) scale(0.9,1)" text-anchor="end" fill="#ff0000" font-size="12">-8.0</text>
<rect x="36" y="612" width="8" height="1" fill="#808080"/>
<text transform="translate(35.0,616.6) scale(0.9,1)" text-anchor="end" fill="#ff0000" font-size="12">-10.0</text>
<rect x="77" y="62" width="1" height="551" fill="#808080"/>
<rect x="73" y="62" width="8" height="1" fill="#808080"/>
<text transform="translate(71.5,66.6) scale(0.9,1)" text-anchor="end" fill="#00ff00" font-size="12">1030</text>
<rect x="73" y="131" width="4" height="1" fill="#808080"/>
<text transform="translate(71.5,135.6) scale(0.9,1)" text-anchor="end" fill="#00ff00" font-size="12">1025</text>
<rect x="73" y="200" width="4" height="1" fill="#808080"/>
<text transform="translate(71.5,204.6) scale(0.9,1)" text-anchor="end" fill="#00ff00" font-size="12">1020</text>
<rect x="73" y="268" width="4" height="1" fill="#808080"/>
<text transform="translate(71.5,272.6) scale(0.9,1)" text-anchor="end" fill="#00ff00" font-size="12">1015</text>
<rect x="73" y="337" width="4" height="1" fill="#808080"/>
<text transform="translate(71.5,341.6) scale(0.9,1)" text-anchor="end" fill="#00ff00" font-size="12">1010</text>
<rect x="73" y="406" width="4" height="1" fill="#808080"/>
<text transform="translate(71.5,410.6) scale(0.9,1)" text-anchor="end" fill="#00ff00" font-size="12">1005</text>
<rect x="73" y="474" width="4" height="1" fill="#808080"/>
<text transform="translate(71.5,478.6) scale(0.9,1)" text-anchor="end" fill="#00ff00" font-size="12">1000</text>
<rect x="73" y="543" width="4" height="1" fill="#808080"/>
<text transform="translate(71.5,547.6) scale(0.9,1)" text-anchor="end" fill="#00ff00" font-size="12">995</text>
<rect x="73" y="612" width="8" height="1" fill="#808080"/>
<text transform="translate(71.5,616.6) scale(0.9,1)" text-anchor="end" fill="#00ff00" font-size="12">990</text>
<rect x="114" y="62" width="1" height="551" fill="#808080"/>
<rect x="110" y="62" width="8" height="1" fill="#808080"/>
<text transform="translate(108.5,66.6) scale(0.9,1)" text-anchor="end" fill="#000" font-size="12">50.0</text>
<rect x="110" y="117" width="4" height="1" fill="#808080"/>
<text transform="translate(108.5,121.6) scale(0.9,1)" text-anchor="end" fill="#000" font-size="12">45.0</text>
<rect x="110" y="172" width="4" height="1" fill="#808080"/>
<text transform="translate(108.5,176.6) scale(0.9,1)" text-anchor="end" fill="#000" font-size="12">40.0</text>
<rect x="110" y="227" width="4" height="1" fill="#808080"/>
<text transform="translate(108.5,231.6) scale(0.9,1)" text-anchor="end" fill="#000" font-size="12">35.0</text>
<rect x="110" y="282" width="4" height="1" fill="#808080"/>
<text transform="translate(108.5,286.6) scale(0.9,1)" text-anchor="end" fill="#000" font-size="12">30.0</text>
<rect x="110" y="337" width="4" height="1" fill="#808080"/>
<text transform="translate(108.5,341.6) scale(0.9,1)" text-anchor="end" fill="#000" font-size="12">25.0</text>
<rect x="110" y="392" width="4" height="1" fill="#808080"/>
<text transform="translate(108.5,396.6) scale(0.9,1)" text-anchor="end" fill="#000" font-size="12">20.0</text>
<rect x="110" y="447" width="4" height="1" fill="#808080"/>
<text transform="translate(108.5,451.6) scale(0.9,1)" text-anchor="end" fill="#000" font-size="12">15.0</text>
<rect x="110" y="502" width="4" height="1" fill="#808080"/>
<text transform="translate(108.5,506.6) scale(0.9,1)" text-anchor="end" fill="#000" font-size="12">10.0</text>
<rect x="110" y="557" width="4" height="1" fill="#808080"/>
<text transform="translate(108.5,561.6) scale(0.9,1)" text-anchor="end" fill="#000" font-size="12">5.0</text>
<rect x="110" y="612" width="8" height="1" fill="#808080"/>
<text transform="translate(108.5,616.6) scale(0.9,1)" text-anchor="end" fill="#000" font-size="12">0.0</text>
<rect x="151" y="62" width="1" height="551" fill="#808080"/>
<rect x="147" y="62" width="8" height="1" fill="#808080"/>
<text transform="translate(145.4,66.6) scale(0.9,1)" text-anchor="end" fill="#ffff00" font-size="12">100</text>
<rect x="147" y="117" width="4" height="1" fill="#808080"/>
<text transform="translate(145.4,121.6) scale(0.9,1)" text-anchor="end" fill="#ffff00" font-size="12">90</text>
<rect x="147" y="172" width="4" height="1" fill="#808080"/>
<text transform="translate(145.4,176.6) scale(0.9,1)" text-anchor="end" fill="#ffff00" font-size="12">80</text>
<rect x="147" y="227" width="4" height="1" fill="#808080"/>
<text transform="translate(145.4,231.6) scale(0.9,1)" text-anchor="end" fill="#ffff00" font-size="12">70</text>
<rect x="147" y="282" width="4" height="1" fill="#808080"/>
<text transform="translate(145.4,286.6) scale(0.9,1)" text-anchor="end" fill="#ffff00" font-size="12">60</text>
<rect x="147" y="337" width="4" height="1" fill="#808080"/>
<text transform="translate(145.4,341.6) scale(0.9,1)" text-anchor="end" fill="#ffff00" font-size="12">50</text>
<rect x="147" y="392" width="4" height="1" fill="#808080"/>
<text transform="translate(145.4,396.6) scale(0.9,1)" text-anchor="end" fill="#ffff00" font-size="12">40</text>
<rect x="147" y="447" width="4" height="1" fill="#808080"/>
<text transform="translate(145.4,451.6) scale(0.9,1)" text-anchor="end" fill="#ffff00" font-size="12">30</text>
<rect x="147" y="502" width="4" height="1" fill="#808080"/>
<text transform="translate(145.4,506.6) scale(0.9,1)" text-anchor="end" fill="#ffff00" font-size="12">20</text>
<rect x="147" y="557" width="4" height="1" fill="#808080"/>
<text transform="translate(145.4,561.6) scale(0.9,1)" text-anchor="end" fill="#ffff00" font-size="12">10</text>
<rect x="147" y="612" width="8" height="1" fill="#808080"/>
<text transform="translate(145.4,616.6) scale(0.9,1)" text-anchor="end" fill="#ffff00" font-size="12">0</text>
<rect x="184" y="62" width="3" height="1" fill="#808080"/>
<text transform="translate(182.3,66.6) scale(0.9,1)" text-anchor="end" fill="#008000" font-size="12">500</text>
<rect x="184" y="117" width="3" height="1" fill="#808080"/>
<text transform="translate(182.3,121.6) scale(0.9,1)" text-anchor="end" fill="#008000" font-size="12">450</text>
<rect x="184" y="172" width="3" height="1" fill="#808080"/>
<text transform="translate(182.3,176.6) scale(0.9,1)" text-anchor="end" fill="#008000" font-size="12">400</text>
<rect x="184" y="227" width="3" height="1" fill="#808080"/>
<text transform="translate(182.3,231.6) scale(0.9,1)" text-anchor="end" fill="#008000" font-size="12">350</text>
<rect x="184" y="282" width="3" height="1" fill="#808080"/>
<text transform="translate(182.3,286.6) scale(0.9,1)" text-anchor="end" fill="#008000" font-size="12">300</text>
<rect x="184" y="337" width="3" height="1" fill="#808080"/>
<text transform="translate(182.3,341.6) scale(0.9,1)" text-anchor="end" fill="#008000" font-size="12">250</text>
<rect x="184" y="392" width="3" height="1" fill="#808080"/>
<text transform="translate(182.3,396.6) scale(0.9,1)" text-anchor="end" fill="#008000" font-size="12">200</text>
<rect x="184" y="447" width="3" height="1" fill="#808080"/>
<text transform="translate(182.3,451.6) scale(0.9,1)" text-anchor="end" fill="#008000" font-size="12">150</text>
<rect x="184" y="502" width="3" height="1" fill="#808080"/>
<text transform="translate(182.3,506.6) scale(0.9,1)" text-anchor="end" fill="#008000" font-size="12">100</text>
<rect x="184" y="557" width="3" height="1" fill="#808080"/>
<text transform="translate(182.3,561.6) scale(0.9,1)" text-anchor="end" fill="#008000" font-size="12">50</text>
<rect x="184" y="612" width="3" height="1" fill="#808080"/>
<text transform="translate(182.3,616.6) scale(0.9,1)" text-anchor="end" fill="#008000" font-size="12">0</text>
<text transform="translate(19.5,51.0) scale(0.8,1)" text-anchor="start" fill="#ff0000" font-size="12">°C</text>
<text transform="translate(48.0,51.0) scale(0.915,1)" text-anchor="start" fill="#00ff00" font-size="12">hPa</text>
<text transform="translate(79.0,51.0) scale(0.99,1)" text-anchor="start" fill="#000" font-size="12">km/h</text>
<text transform="translate(125.5,51.0) scale(0.835,1)" text-anchor="start" fill="#ffff00" font-size="12">min</text>
<text transform="translate(151.0,51.0) scale(0.944,1)" text-anchor="start" fill="#008000" font-size="12">W/m²</text>
<rect x="1119" y="62" width="4" height="1" fill="#808080"/>
<text transform="translate(1124.5,66.6) scale(0.9,1)" text-anchor="start" fill="#0000ff" font-size="12">100</text>
<rect x="1119" y="90" width="4" height="1" fill="#808080"/>
<text transform="translate(1124.5,94.6) scale(0.9,1)" text-anchor="start" fill="#0000ff" font-size="12">95</text>
<rect x="1119" y="117" width="4" height="1" fill="#808080"/>
<text transform="translate(1124.5,121.6) scale(0.9,1)" text-anchor="start" fill="#0000ff" font-size="12">90</text>
<rect x="1119" y="144" width="4" height="1" fill="#808080"/>
<text transform="translate(1124.5,148.6) scale(0.9,1)" text-anchor="start" fill="#0000ff" font-size="12">85</text>
<rect x="1119" y="172" width="4" height="1" fill="#808080"/>
<text transform="translate(1124.5,176.6) scale(0.9,1)" text-anchor="start" fill="#0000ff" font-size="12">80</text>
<rect x="1119" y="200" width="4" height="1" fill="#808080"/>
<text transform="translate(1124.5,204.6) scale(0.9,1)" text-anchor="start" fill="#0000ff" font-size="12">75</text>
<rect x="1119" y="227" width="4" height="1" fill="#808080"/>
<text transform="translate(1124.5,231.6) scale(0.9,1)" text-anchor="start" fill="#0000ff" font-size="12">70</text>
<rect x="1119" y="254" width="4" height="1" fill="#808080"/>
<text transform="translate(1124.5,258.6) scale(0.9,1)" text-anchor="start" fill="#0000ff" font-size="12">65</text>
<rect x="1119" y="282" width="4" height="1" fill="#808080"/>
<text transform="translate(1124.5,286.6) scale(0.9,1)" text-anchor="start" fill="#0000ff" font-size="12">60</text>
<rect x="1119" y="310" width="4" height="1" fill="#808080"/>
<text transform="translate(1124.5,314.6) scale(0.9,1)" text-anchor="start" fill="#0000ff" font-size="12">55</text>
<rect x="1119" y="337" width="4" height="1" fill="#808080"/>
<text transform="translate(1124.5,341.6) scale(0.9,1)" text-anchor="start" fill="#0000ff" font-size="12">50</text>
<rect x="1119" y="364" width="4" height="1" fill="#808080"/>
<text transform="translate(1124.5,368.6) scale(0.9,1)" text-anchor="start" fill="#0000ff" font-size="12">45</text>
<rect x="1119" y="392" width="4" height="1" fill="#808080"/>
<text transform="translate(1124.5,396.6) scale(0.9,1)" text-anchor="start" fill="#0000ff" font-size="12">40</text>
<rect x="1119" y="420" width="4" height="1" fill="#808080"/>
<text transform="translate(1124.5,424.6) scale(0.9,1)" text-anchor="start" fill="#0000ff" font-size="12">35</text>
<rect x="1119" y="447" width="4" height="1" fill="#808080"/>
<text transform="translate(1124.5,451.6) scale(0.9,1)" text-anchor="start" fill="#0000ff" font-size="12">30</text>
<rect x="1119" y="474" width="4" height="1" fill="#808080"/>
<text transform="translate(1124.5,478.6) scale(0.9,1)" text-anchor="start" fill="#0000ff" font-size="12">25</text>
<rect x="1119" y="502" width="4" height="1" fill="#808080"/>
<text transform="translate(1124.5,506.6) scale(0.9,1)" text-anchor="start" fill="#0000ff" font-size="12">20</text>
<rect x="1119" y="530" width="4" height="1" fill="#808080"/>
<text transform="translate(1124.5,534.6) scale(0.9,1)" text-anchor="start" fill="#0000ff" font-size="12">15</text>
<rect x="1119" y="557" width="4" height="1" fill="#808080"/>
<text transform="translate(1124.5,561.6) scale(0.9,1)" text-anchor="start" fill="#0000ff" font-size="12">10</text>
<rect x="1119" y="584" width="4" height="1" fill="#808080"/>
<text transform="translate(1124.5,588.6) scale(0.9,1)" text-anchor="start" fill="#0000ff" font-size="12">5</text>
<rect x="1119" y="612" width="4" height="1" fill="#808080"/>
<text transform="translate(1124.5,616.6) scale(0.9,1)" text-anchor="start" fill="#0000ff" font-size="12">0</text>
<rect x="1155" y="62" width="1" height="551" fill="#808080"/>
<rect x="1151" y="62" width="9" height="1" fill="#808080"/>
<text transform="translate(1161.5,66.6) scale(0.9,1)" text-anchor="start" fill="#00ffff" font-size="12">6.00</text>
<rect x="1156" y="108" width="4" height="1" fill="#808080"/>
<text transform="translate(1161.5,112.6) scale(0.9,1)" text-anchor="start" fill="#00ffff" font-size="12">5.50</text>
<rect x="1156" y="154" width="4" height="1" fill="#808080"/>
<text transform="translate(1161.5,158.6) scale(0.9,1)" text-anchor="start" fill="#00ffff" font-size="12">5.00</text>
<rect x="1156" y="200" width="4" height="1" fill="#808080"/>
<text transform="translate(1161.5,204.6) scale(0.9,1)" text-anchor="start" fill="#00ffff" font-size="12">4.50</text>
<rect x="1156" y="245" width="4" height="1" fill="#808080"/>
<text transform="translate(1161.5,249.6) scale(0.9,1)" text-anchor="start" fill="#00ffff" font-size="12">4.00</text>
<rect x="1156" y="291" width="4" height="1" fill="#808080"/>
<text transform="translate(1161.5,295.6) scale(0.9,1)" text-anchor="start" fill="#00ffff" font-size="12">3.50</text>
<rect x="1156" y="337" width="4" height="1" fill="#808080"/>
<text transform="translate(1161.5,341.6) scale(0.9,1)" text-anchor="start" fill="#00ffff" font-size="12">3.00</text>
<rect x="1156" y="383" width="4" height="1" fill="#808080"/>
<text transform="translate(1161.5,387.6) scale(0.9,1)" text-anchor="start" fill="#00ffff" font-size="12">2.50</text>
<rect x="1156" y="429" width="4" height="1" fill="#808080"/>
<text transform="translate(1161.5,433.6) scale(0.9,1)" text-anchor="start" fill="#00ffff" font-size="12">2.00</text>
<rect x="1156" y="474" width="4" height="1" fill="#808080"/>
<text transform="translate(1161.5,478.6) scale(0.9,1)" text-anchor="start" fill="#00ffff" font-size="12">1.50</text>
<rect x="1156" y="520" width="4" height="1" fill="#808080"/>
<text transform="translate(1161.5,524.6) scale(0.9,1)" text-anchor="start" fill="#00ffff" font-size="12">1.00</text>
<rect x="1156" y="566" width="4" height="1" fill="#808080"/>
<text transform="translate(1161.5,570.6) scale(0.9,1)" text-anchor="start" fill="#00ffff" font-size="12">0.50</text>
<rect x="1151" y="612" width="9" height="1" fill="#808080"/>
<text transform="translate(1161.5,616.6) scale(0.9,1)" text-anchor="start" fill="#00ffff" font-size="12">0.00</text>
<rect x="1192" y="62" width="1" height="551" fill="#808080"/>
<rect x="1188" y="62" width="9" height="1" fill="#808080"/>
<text transform="translate(1198.5,66.6) scale(0.9,1)" text-anchor="start" fill="#707070" font-size="12">360 N</text>
<rect x="1193" y="108" width="4" height="1" fill="#808080"/>
<text transform="translate(1198.5,112.6) scale(0.9,1)" text-anchor="start" fill="#707070" font-size="12">330</text>
<rect x="1193" y="154" width="4" height="1" fill="#808080"/>
<text transform="translate(1198.5,158.6) scale(0.9,1)" text-anchor="start" fill="#707070" font-size="12">300</text>
<rect x="1193" y="200" width="4" height="1" fill="#808080"/>
<text transform="translate(1198.5,204.6) scale(0.9,1)" text-anchor="start" fill="#707070" font-size="12">270 W</text>
<rect x="1193" y="245" width="4" height="1" fill="#808080"/>
<text transform="translate(1198.5,249.6) scale(0.9,1)" text-anchor="start" fill="#707070" font-size="12">240</text>
<rect x="1193" y="291" width="4" height="1" fill="#808080"/>
<text transform="translate(1198.5,295.6) scale(0.9,1)" text-anchor="start" fill="#707070" font-size="12">210</text>
<rect x="1193" y="337" width="4" height="1" fill="#808080"/>
<text transform="translate(1198.5,341.6) scale(0.9,1)" text-anchor="start" fill="#707070" font-size="12">180 S</text>
<rect x="1193" y="383" width="4" height="1" fill="#808080"/>
<text transform="translate(1198.5,387.6) scale(0.9,1)" text-anchor="start" fill="#707070" font-size="12">150</text>
<rect x="1193" y="429" width="4" height="1" fill="#808080"/>
<text transform="translate(1198.5,433.6) scale(0.9,1)" text-anchor="start" fill="#707070" font-size="12">120</text>
<rect x="1193" y="474" width="4" height="1" fill="#808080"/>
<text transform="translate(1198.5,478.6) scale(0.9,1)" text-anchor="start" fill="#707070" font-size="12">90 O</text>
<rect x="1193" y="520" width="4" height="1" fill="#808080"/>
<text transform="translate(1198.5,524.6) scale(0.9,1)" text-anchor="start" fill="#707070" font-size="12">60</text>
<rect x="1193" y="566" width="4" height="1" fill="#808080"/>
<text transform="translate(1198.5,570.6) scale(0.9,1)" text-anchor="start" fill="#707070" font-size="12">30</text>
<rect x="1188" y="612" width="9" height="1" fill="#808080"/>
<text transform="translate(1198.5,616.6) scale(0.9,1)" text-anchor="start" fill="#707070" font-size="12">0</text>
<text transform="translate(1217.0,616.6) scale(0.9,1)" text-anchor="start" fill="#707070" font-size="12">N</text>
<rect x="1229" y="62" width="1" height="551" fill="#808080"/>
<rect x="1225" y="62" width="9" height="1" fill="#808080"/>
<text transform="translate(1235.5,66.6) scale(0.9,1)" text-anchor="start" fill="#4da6ff" font-size="12">90</text>
<rect x="1230" y="93" width="4" height="1" fill="#808080"/>
<text transform="translate(1235.5,97.6) scale(0.9,1)" text-anchor="start" fill="#4da6ff" font-size="12">85</text>
<rect x="1230" y="123" width="4" height="1" fill="#808080"/>
<text transform="translate(1235.5,127.6) scale(0.9,1)" text-anchor="start" fill="#4da6ff" font-size="12">80</text>
<rect x="1230" y="154" width="4" height="1" fill="#808080"/>
<text transform="translate(1235.5,158.6) scale(0.9,1)" text-anchor="start" fill="#4da6ff" font-size="12">75</text>
<rect x="1230" y="184" width="4" height="1" fill="#808080"/>
<text transform="translate(1235.5,188.6) scale(0.9,1)" text-anchor="start" fill="#4da6ff" font-size="12">70</text>
<rect x="1230" y="215" width="4" height="1" fill="#808080"/>
<text transform="translate(1235.5,219.6) scale(0.9,1)" text-anchor="start" fill="#4da6ff" font-size="12">65</text>
<rect x="1230" y="245" width="4" height="1" fill="#808080"/>
<text transform="translate(1235.5,249.6) scale(0.9,1)" text-anchor="start" fill="#4da6ff" font-size="12">60</text>
<rect x="1230" y="276" width="4" height="1" fill="#808080"/>
<text transform="translate(1235.5,280.6) scale(0.9,1)" text-anchor="start" fill="#4da6ff" font-size="12">55</text>
<rect x="1230" y="306" width="4" height="1" fill="#808080"/>
<text transform="translate(1235.5,310.6) scale(0.9,1)" text-anchor="start" fill="#4da6ff" font-size="12">50</text>
<rect x="1230" y="337" width="4" height="1" fill="#808080"/>
<text transform="translate(1235.5,341.6) scale(0.9,1)" text-anchor="start" fill="#4da6ff" font-size="12">45</text>
<rect x="1230" y="368" width="4" height="1" fill="#808080"/>
<text transform="translate(1235.5,372.6) scale(0.9,1)" text-anchor="start" fill="#4da6ff" font-size="12">40</text>
<rect x="1230" y="398" width="4" height="1" fill="#808080"/>
<text transform="translate(1235.5,402.6) scale(0.9,1)" text-anchor="start" fill="#4da6ff" font-size="12">35</text>
<rect x="1230" y="429" width="4" height="1" fill="#808080"/>
<text transform="translate(1235.5,433.6) scale(0.9,1)" text-anchor="start" fill="#4da6ff" font-size="12">30</text>
<rect x="1230" y="459" width="4" height="1" fill="#808080"/>
<text transform="translate(1235.5,463.6) scale(0.9,1)" text-anchor="start" fill="#4da6ff" font-size="12">25</text>
<rect x="1230" y="490" width="4" height="1" fill="#808080"/>
<text transform="translate(1235.5,494.6) scale(0.9,1)" text-anchor="start" fill="#4da6ff" font-size="12">20</text>
<rect x="1230" y="520" width="4" height="1" fill="#808080"/>
<text transform="translate(1235.5,524.6) scale(0.9,1)" text-anchor="start" fill="#4da6ff" font-size="12">15</text>
<rect x="1230" y="551" width="4" height="1" fill="#808080"/>
<text transform="translate(1235.5,555.6) scale(0.9,1)" text-anchor="start" fill="#4da6ff" font-size="12">10</text>
<rect x="1230" y="581" width="4" height="1" fill="#808080"/>
<text transform="translate(1235.5,585.6) scale(0.9,1)" text-anchor="start" fill="#4da6ff" font-size="12">5</text>
<rect x="1225" y="612" width="9" height="1" fill="#808080"/>
<text transform="translate(1235.5,616.6) scale(0.9,1)" text-anchor="start" fill="#4da6ff" font-size="12">0</text>
<text transform="translate(1119.0,51.0) scale(0.9,1)" text-anchor="start" fill="#0000ff" font-size="12">%</text>
<text transform="translate(1155.0,51.0) scale(0.9,1)" text-anchor="start" fill="#00ffff" font-size="12">l/m²</text>
<text transform="translate(1192.5,51.0) scale(0.9,1)" text-anchor="start" fill="#707070" font-size="12">°</text>
<text transform="translate(1229.5,51.0) scale(0.9,1)" text-anchor="start" fill="#4da6ff" font-size="12">klux</text>
<text transform="translate(638.3,20.8) scale(0.953,1)" text-anchor="middle" fill="#202020" font-size="16.5">Freitag, 03.01.2025</text>
<text transform="translate(1268.0,16.0) scale(0.936,1)" text-anchor="end" fill="#0000ff" font-size="11.5" stroke="#0000ff" stroke-width="0.3">Osterode am Harz</text>
<rect x="198.5" y="33.5" width="9" height="9" fill="#ff0000" stroke="#000" stroke-width="1"/>
<text transform="translate(212.5,42.0) scale(0.9,1)" text-anchor="start" fill="#000" font-size="12">Außen</text>
<rect x="293.5" y="33.5" width="9" height="9" fill="#0000ff" stroke="#000" stroke-width="1"/>
<text transform="translate(307.5,42.0) scale(0.9,1)" text-anchor="start" fill="#000" font-size="12">Feuchte</text>
<rect x="388.5" y="33.5" width="9" height="9" fill="#00ff00" stroke="#000" stroke-width="1"/>
<text transform="translate(402.5,42.0) scale(0.9,1)" text-anchor="start" fill="#000" font-size="12">Luftdruck*</text>
<rect x="483.5" y="33.5" width="9" height="9" fill="#00ffff" stroke="#000" stroke-width="1"/>
<text transform="translate(497.5,42.0) scale(0.9,1)" text-anchor="start" fill="#000" font-size="12">Regen</text>
<rect x="578.5" y="33.5" width="9" height="9" fill="#000000" stroke="#000" stroke-width="1"/>
<text transform="translate(592.5,42.0) scale(0.9,1)" text-anchor="start" fill="#000" font-size="12">Wind*</text>
<rect x="673.5" y="33.5" width="9" height="9" fill="#808080" stroke="#000" stroke-width="1"/>
<text transform="translate(687.5,42.0) scale(0.9,1)" text-anchor="start" fill="#000" font-size="12">Richtung*</text>
<rect x="768.5" y="33.5" width="9" height="9" fill="#ffff00" stroke="#000" stroke-width="1"/>
<text transform="translate(782.5,42.0) scale(0.9,1)" text-anchor="start" fill="#000" font-size="12">Sonnenschein</text>
<rect x="863.5" y="33.5" width="9" height="9" fill="#4da6ff" stroke="#000" stroke-width="1"/>
<text transform="translate(877.5,42.0) scale(0.9,1)" text-anchor="start" fill="#000" font-size="12">Helligkeit</text>
<rect x="958.5" y="33.5" width="9" height="9" fill="#008000" stroke="#000" stroke-width="1"/>
<text transform="translate(972.5,42.0) scale(0.9,1)" text-anchor="start" fill="#000" font-size="12">Solar</text>
<rect x="198.5" y="47.5" width="9" height="9" fill="#408080" stroke="#000" stroke-width="1"/>
<text transform="translate(212.5,56.0) scale(0.9,1)" text-anchor="start" fill="#000" font-size="12">Taupunkt*</text>
<path d="M293.5 56 V47.5 H302.5 V56.5 H299" fill="none" stroke="#ff8080" stroke-width="1"/>
<text transform="translate(307.5,56.0) scale(0.9,1)" text-anchor="start" fill="#ff8080" font-size="12">1.3 Monat-Ø</text>
<text transform="translate(8.5,670.0) scale(0.975,1)" text-anchor="start" fill="#000" font-size="12" font-weight="bold">Sensor</text>
<text transform="translate(8.5,686.0) scale(0.975,1)" text-anchor="start" fill="#000" font-size="12" font-weight="bold">MinWert</text>
<text transform="translate(8.5,702.0) scale(0.975,1)" text-anchor="start" fill="#000" font-size="12" font-weight="bold">MaxWert</text>
<text transform="translate(8.5,718.0) scale(0.975,1)" text-anchor="start" fill="#000" font-size="12" font-weight="bold">Durchschnitt</text>
<text transform="translate(94.0,670.0) scale(0.975,1)" text-anchor="start" fill="#000" font-size="12" font-weight="bold">Außen</text>
<text transform="translate(199.0,670.0) scale(0.975,1)" text-anchor="end" fill="#000" font-size="12" font-weight="bold">°C</text>
<text transform="translate(100.0,686.0) scale(0.9,1)" text-anchor="start" fill="#000" font-size="12">23:30</text>
<text transform="translate(199.0,686.0) scale(0.9,1)" text-anchor="end" fill="#000" font-size="12">-0.7</text>
<text transform="translate(100.0,702.0) scale(0.9,1)" text-anchor="start" fill="#000" font-size="12">14:00</text>
<text transform="translate(199.0,702.0) scale(0.9,1)" text-anchor="end" fill="#000" font-size="12">1.7</text>
<text transform="translate(100.0,718.0) scale(0.9,1)" text-anchor="start" fill="#000" font-size="12">( - 0.87 )</text>
<text transform="translate(199.0,718.0) scale(0.9,1)" text-anchor="end" fill="#000" font-size="12">0.47</text>
<text transform="translate(212.0,670.0) scale(0.975,1)" text-anchor="start" fill="#000" font-size="12" font-weight="bold">Feuchte</text>
<text transform="translate(316.0,670.0) scale(0.975,1)" text-anchor="end" fill="#000" font-size="12" font-weight="bold">%</text>
<text transform="translate(218.0,686.0) scale(0.9,1)" text-anchor="start" fill="#000" font-size="12">14:15</text>
<text transform="translate(316.0,686.0) scale(0.9,1)" text-anchor="end" fill="#000" font-size="12">74</text>
<text transform="translate(218.0,702.0) scale(0.9,1)" text-anchor="start" fill="#000" font-size="12">08:00</text>
<text transform="translate(316.0,702.0) scale(0.9,1)" text-anchor="end" fill="#000" font-size="12">90</text>
<text transform="translate(316.0,718.0) scale(0.9,1)" text-anchor="end" fill="#000" font-size="12">86</text>
<text transform="translate(330.0,670.0) scale(0.975,1)" text-anchor="start" fill="#000" font-size="12" font-weight="bold">Luftdruck</text>
<text transform="translate(435.0,670.0) scale(0.975,1)" text-anchor="end" fill="#000" font-size="12" font-weight="bold">hPa</text>
<text transform="translate(336.0,686.0) scale(0.9,1)" text-anchor="start" fill="#000" font-size="12">14:00</text>
<text transform="translate(435.0,686.0) scale(0.9,1)" text-anchor="end" fill="#000" font-size="12">1013.9</text>
<text transform="translate(336.0,702.0) scale(0.9,1)" text-anchor="start" fill="#000" font-size="12">23:30</text>
<text transform="translate(435.0,702.0) scale(0.9,1)" text-anchor="end" fill="#000" font-size="12">1020.4</text>
<text transform="translate(330.0,718.0) scale(0.9,1)" text-anchor="start" fill="#000" font-size="12">^2.1hPa/h</text>
<text transform="translate(435.0,718.0) scale(0.9,1)" text-anchor="end" fill="#000" font-size="12">1015.8</text>
<text transform="translate(448.0,670.0) scale(0.975,1)" text-anchor="start" fill="#000" font-size="12" font-weight="bold">Wind</text>
<text transform="translate(552.0,670.0) scale(0.975,1)" text-anchor="end" fill="#000" font-size="12" font-weight="bold">km/h</text>
<text transform="translate(448.0,686.0) scale(0.9,1)" text-anchor="start" fill="#000" font-size="12">Ø 10 min.</text>
<text transform="translate(552.0,686.0) scale(0.9,1)" text-anchor="end" fill="#000" font-size="12">26.8</text>
<text transform="translate(454.0,702.0) scale(0.9,1)" text-anchor="start" fill="#000" font-size="12">13:00</text>
<text transform="translate(527.0,702.0) scale(0.9,1)" text-anchor="end" fill="#000" font-size="12">W-SW</text>
<text transform="translate(552.0,702.0) scale(0.9,1)" text-anchor="end" fill="#000" font-size="12">49.4</text>
<text transform="translate(454.0,718.0) scale(0.9,1)" text-anchor="start" fill="#000" font-size="12">596.6 km</text>
<text transform="translate(552.0,718.0) scale(0.9,1)" text-anchor="end" fill="#000" font-size="12">24.9</text>
<text transform="translate(566.0,670.0) scale(0.975,1)" text-anchor="start" fill="#000" font-size="12" font-weight="bold">Richtung</text>
<text transform="translate(572.0,686.0) scale(0.9,1)" text-anchor="start" fill="#000" font-size="12">14:45</text>
<text transform="translate(670.0,686.0) scale(0.9,1)" text-anchor="end" fill="#000" font-size="12">SW</text>
<text transform="translate(572.0,702.0) scale(0.9,1)" text-anchor="start" fill="#000" font-size="12">20:30</text>
<text transform="translate(670.0,702.0) scale(0.9,1)" text-anchor="end" fill="#000" font-size="12">W-SW</text>
<text transform="translate(670.0,718.0) scale(0.9,1)" text-anchor="end" fill="#000" font-size="12">W-SW</text>
<text transform="translate(684.0,670.0) scale(0.9,1)" text-anchor="start" fill="#000" font-size="12">Regen/1h</text>
<text transform="translate(789.0,670.0) scale(0.9,1)" text-anchor="end" fill="#000" font-size="12">0.00l/m²</text>
<text transform="translate(684.0,686.0) scale(0.9,1)" text-anchor="start" fill="#000" font-size="12">Regen/Tag</text>
<text transform="translate(789.0,686.0) scale(0.9,1)" text-anchor="end" fill="#000" font-size="12">0.88l/m²</text>
<text transform="translate(684.0,702.0) scale(0.9,1)" text-anchor="start" fill="#000" font-size="12">Neumond</text>
<text transform="translate(789.0,702.0) scale(0.9,1)" text-anchor="end" fill="#000" font-size="12">29.01.25</text>
<text transform="translate(684.0,718.0) scale(0.9,1)" text-anchor="start" fill="#000" font-size="12">Vollmond</text>
<text transform="translate(789.0,718.0) scale(0.9,1)" text-anchor="end" fill="#000" font-size="12">13.01.25</text>
<text transform="translate(802.0,670.0) scale(0.9,1)" text-anchor="start" fill="#000" font-size="12">Wolkenunterg</text>
<text transform="translate(907.0,670.0) scale(0.9,1)" text-anchor="end" fill="#000" font-size="12">315m</text>
<text transform="translate(802.0,686.0) scale(0.9,1)" text-anchor="start" fill="#000" font-size="12">Sichtweite</text>
<text transform="translate(907.0,686.0) scale(0.9,1)" text-anchor="end" fill="#000" font-size="12">2-5km</text>
<text transform="translate(802.0,702.0) scale(0.9,1)" text-anchor="start" fill="#000" font-size="12">Schneefallgr</text>
<text transform="translate(907.0,702.0) scale(0.9,1)" text-anchor="end" fill="#000" font-size="12">180m</text>
<text transform="translate(802.0,718.0) scale(0.9,1)" text-anchor="start" fill="#000" font-size="12">Schneehöhe</text>
<text transform="translate(907.0,718.0) scale(0.9,1)" text-anchor="end" fill="#000" font-size="12">0cm</text>
<text transform="translate(920.0,670.0) scale(0.975,1)" text-anchor="start" fill="#000" font-size="12" font-weight="bold">Solar</text>
<text transform="translate(1022.0,670.0) scale(0.975,1)" text-anchor="end" fill="#000" font-size="12" font-weight="bold">W/m²</text>
<text transform="translate(920.0,686.0) scale(0.9,1)" text-anchor="start" fill="#000" font-size="12">Elevation</text>
<text transform="translate(1022.0,686.0) scale(0.9,1)" text-anchor="end" fill="#000" font-size="12">-60.043</text>
<text transform="translate(926.0,702.0) scale(0.9,1)" text-anchor="start" fill="#000" font-size="12">13:45</text>
<text transform="translate(1022.0,702.0) scale(0.9,1)" text-anchor="end" fill="#000" font-size="12">205</text>
<text transform="translate(920.0,718.0) scale(0.9,1)" text-anchor="start" fill="#000" font-size="12">Tag:45 min.</text>
<text transform="translate(1022.0,718.0) scale(0.9,1)" text-anchor="end" fill="#000" font-size="12">53</text>
</svg>
</body></html>
